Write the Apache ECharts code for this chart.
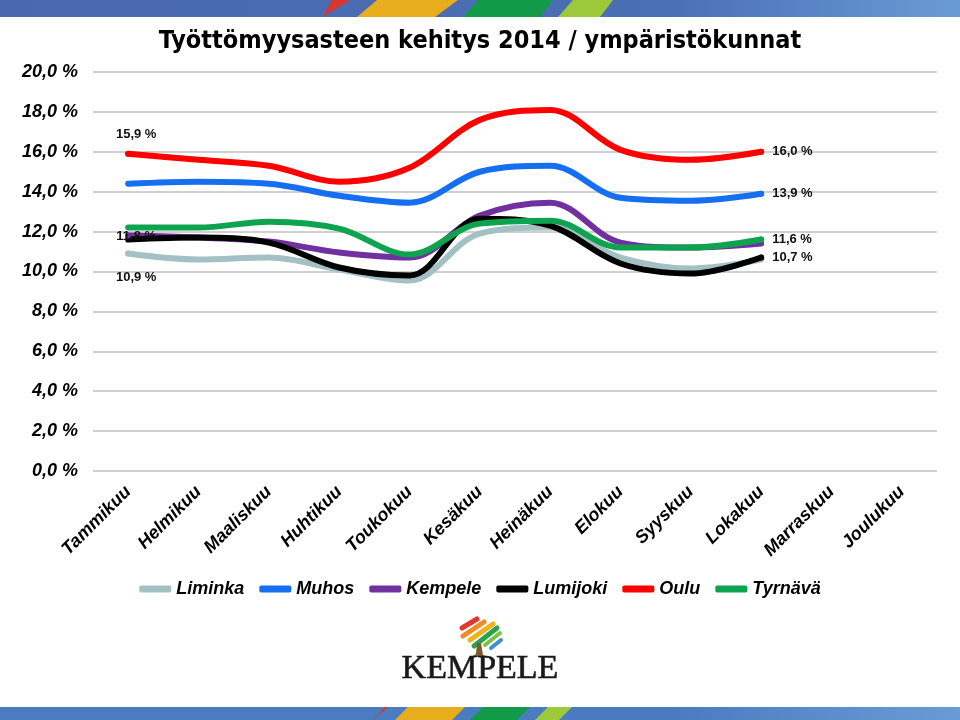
<!DOCTYPE html>
<html>
<head>
<meta charset="utf-8">
<script src="https://cdn.jsdelivr.net/npm/echarts@6/dist/echarts.min.js"></script>
<style>
  html, body { margin: 0; padding: 0; background: #fff; }
  #chart { width: 960px; height: 720px; }
</style>
</head>
<body>
<div id="chart"></div>
<script>
// kuukaudet
const months = ['Tammikuu', 'Helmikuu', 'Maaliskuu', 'Huhtikuu', 'Toukokuu', 'Kesäkuu',
  'Heinäkuu', 'Elokuu', 'Syyskuu', 'Lokakuu', 'Marraskuu', 'Joulukuu']

// työttömyysaste % (tammi-loka)
const liminka = [10.9, 10.6, 10.7, 10.1, 9.55, 11.9, 12.2, 10.7, 10.15, 10.6]
const muhos = [14.4, 14.5, 14.4, 13.8, 13.45, 15.0, 15.3, 13.7, 13.55, 13.9]
const kempele = [11.8, 11.7, 11.5, 10.95, 10.7, 12.8, 13.45, 11.45, 11.2, 11.4]
const lumijoki = [11.6, 11.7, 11.45, 10.2, 9.8, 12.65, 12.3, 10.4, 9.9, 10.7]
const oulu = [15.9, 15.6, 15.3, 14.5, 15.2, 17.6, 18.1, 16.1, 15.6, 16.0]
const tyrnava = [12.2, 12.2, 12.5, 12.15, 10.85, 12.4, 12.55, 11.2, 11.2, 11.6]

const yTicks = [0, 2, 4, 6, 8, 10, 12, 14, 16, 18, 20]

const fmt = v => v.toFixed(1).replace('.', ',') + ' %'

// first / last point label positions
const seriesDefs = [
  { name: 'Liminka', data: liminka, color: '#a3c1c4', first: 'bottom', last: null },
  { name: 'Muhos', data: muhos, color: '#166ff0', first: null, last: 'right' },
  { name: 'Kempele', data: kempele, color: '#7030a0', first: 'inside', last: null },
  { name: 'Lumijoki', data: lumijoki, color: '#000000', first: null, last: 'right' },
  { name: 'Oulu', data: oulu, color: '#ff0000', first: 'top', last: 'right' },
  { name: 'Tyrnävä', data: tyrnava, color: '#0ea34f', first: null, last: 'right' }
]

const labelStyle = {
  color: '#111',
  fontFamily: 'Liberation Sans, Arial, sans-serif',
  fontWeight: 'bold',
  fontSize: 13,
  formatter: p => fmt(p.value)
}

function buildData(def) {
  return def.data.map((v, i) => {
    let pos = null
    if (i === 0) pos = def.first
    if (i === def.data.length - 1) pos = def.last
    if (!pos) return { value: v, symbol: 'none' }
    const lbl = Object.assign({ show: true, position: pos }, labelStyle)
    if (pos === 'top') { lbl.distance = 10; lbl.offset = [8, 0] }
    if (pos === 'bottom') { lbl.distance = 14; lbl.offset = [8, 0] }
    if (pos === 'inside') { lbl.offset = [8, 1] }
    if (pos === 'right') { lbl.distance = 8 }
    return { value: v, label: lbl }
  })
}

const chart = echarts.init(document.getElementById('chart'))

const band = (y, h, c1, c2) => ({
  type: 'rect', shape: { x: 0, y: y, width: 960, height: h },
  style: { fill: new echarts.graphic.LinearGradient(0, 0, 1, 0, [
    { offset: 0, color: c1 }, { offset: 0.7, color: c2 }, { offset: 1, color: '#6b9bd6' }
  ]) }, silent: true
})
const poly = (pts, c) => ({ type: 'polygon', shape: { points: pts }, style: { fill: c }, silent: true })
const stroke = (x1, y1, x2, y2, c, w) => ({
  type: 'line', shape: { x1: x1, y1: y1, x2: x2, y2: y2 },
  style: { stroke: c, lineWidth: w, lineCap: 'round' }, silent: true
})

chart.setOption({
  animation: false,
  title: {
    text: 'Työttömyysasteen kehitys 2014 / ympäristökunnat',
    left: 'center',
    top: 24,
    textStyle: {
      fontFamily: "'Liberation Sans Narrow', 'Arial Narrow', 'DejaVu Sans Condensed', sans-serif",
      fontWeight: 'bold',
      fontSize: 25,
      color: '#000'
    }
  },
  legend: {
    top: 575,
    left: 'center',
    icon: 'roundRect',
    itemWidth: 32,
    itemHeight: 7,
    itemGap: 15,
    textStyle: {
      fontFamily: 'Liberation Sans, Arial, sans-serif',
      fontWeight: 'bold',
      fontStyle: 'italic',
      fontSize: 18,
      color: '#000'
    },
    data: seriesDefs.map(d => d.name)
  },
  grid: { left: 93, right: 23, top: 72, bottom: 249 },
  xAxis: {
    type: 'category',
    data: months,
    boundaryGap: true,
    axisLine: { show: false },
    axisTick: { show: false },
    axisLabel: {
      rotate: 45,
      margin: 18,
      interval: 0,
      fontFamily: 'Liberation Sans, Arial, sans-serif',
      fontWeight: 'bold',
      fontStyle: 'italic',
      fontSize: 18,
      color: '#000'
    }
  },
  yAxis: {
    type: 'value',
    min: yTicks[0],
    max: yTicks[yTicks.length - 1],
    interval: 2,
    axisLine: { show: false },
    axisTick: { show: false },
    splitLine: { lineStyle: { color: '#c0c0c0', width: 1.5 } },
    axisLabel: {
      margin: 15,
      formatter: v => fmt(v),
      fontFamily: 'Liberation Sans, Arial, sans-serif',
      fontWeight: 'bold',
      fontStyle: 'italic',
      fontSize: 18,
      color: '#000'
    }
  },
  series: seriesDefs.map(def => ({
    name: def.name,
    type: 'line',
    data: buildData(def),
    smooth: 0.35,
    symbol: 'circle',
    symbolSize: 6,
    showSymbol: true,
    color: def.color,
    itemStyle: { color: def.color },
    lineStyle: { width: 6, color: def.color, cap: 'round' },
    emphasis: { disabled: true }
  })),
  graphic: [
    // top banner
    band(0, 17, '#4a68ad', '#4a6fb5'),
    poly([[323, 17], [332, 0], [350, 0]], '#d8372a'),
    poly([[357, 17], [377, 0], [458, 0], [435, 17]], '#e8ad1c'),
    poly([[463, 17], [478, 0], [553, 0], [540, 17]], '#139a48'),
    poly([[558, 17], [573, 0], [613, 0], [600, 17]], '#9cc93a'),
    // bottom banner
    band(707, 13, '#4c7cc0', '#4a7bc0'),
    poly([[373, 720], [385, 707], [388, 707]], '#d8372a'),
    poly([[395, 720], [408, 707], [465, 707], [452, 720]], '#e8ad1c'),
    poly([[470, 720], [483, 707], [530, 707], [517, 720]], '#139a48'),
    poly([[535, 720], [548, 707], [572, 707], [559, 720]], '#9cc93a'),
    // Kempele logo
    stroke(462, 628, 477, 619, '#e03a2e', 5),
    stroke(463, 636, 484, 622, '#f08a24', 5),
    stroke(470, 640, 493, 624, '#f2b01e', 5),
    stroke(474, 646, 497, 628, '#2aa14a', 5),
    stroke(485, 645, 500, 633, '#7cc242', 4),
    stroke(491, 648, 501, 640, '#3a8fd6', 4),
    poly([[477, 643], [481, 643], [483, 655], [489, 657], [471, 657], [476, 654]], '#7a5a2e'),
    {
      type: 'text',
      left: 'center',
      top: 652,
      style: {
        text: 'KEMPELE',
        fill: '#1a1a1a',
        stroke: '#1a1a1a',
        lineWidth: 0.6,
        font: '34px "Liberation Serif", "DejaVu Serif", serif',
        letterSpacing: 4
      },
      silent: true
    }
  ]
})
</script>
</body>
</html>
